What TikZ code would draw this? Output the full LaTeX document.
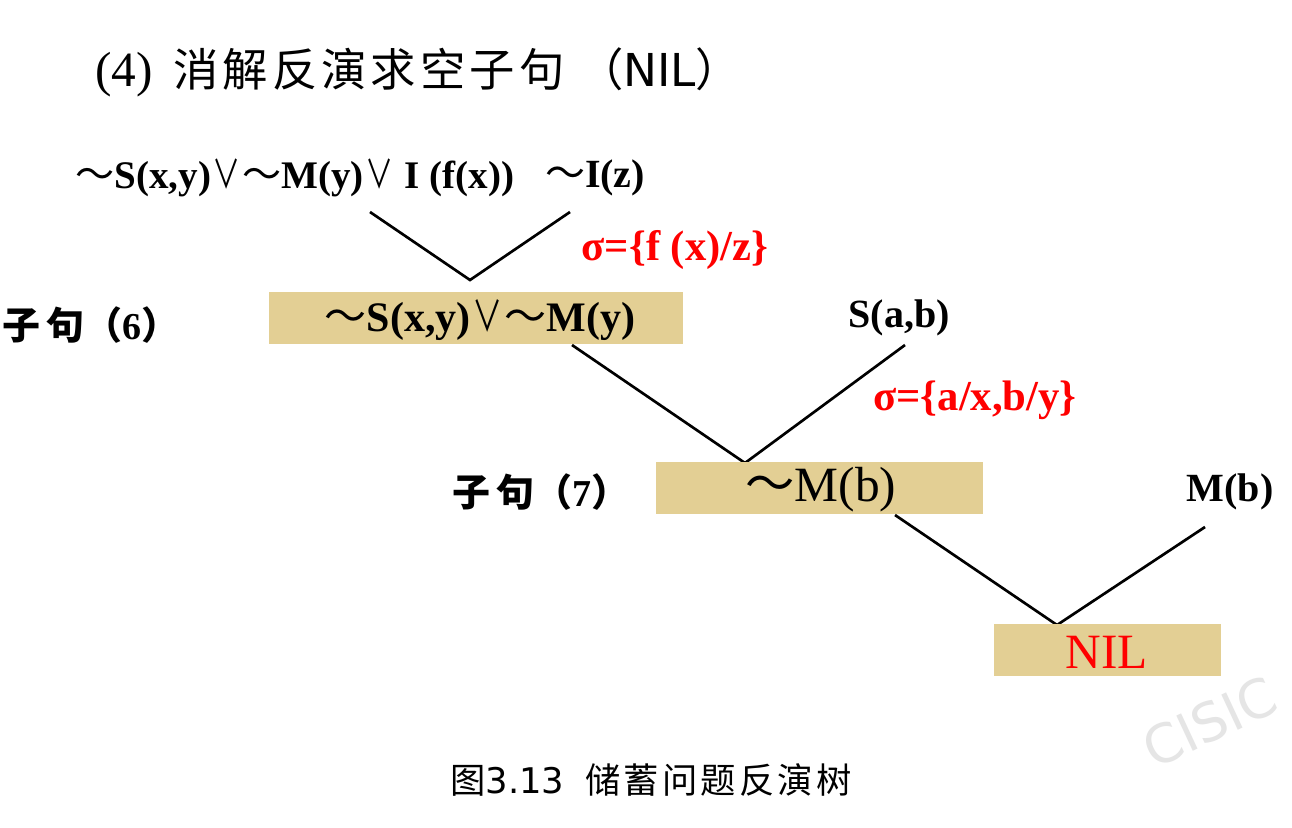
\documentclass[tikz,border=0pt]{standalone}
\usepackage{fontspec}
\setmainfont{Liberation Serif}
\newfontfamily\cjk{Noto Sans CJK SC}
\newfontfamily\cjksp[LetterSpace=9]{Noto Sans CJK SC}
\newfontfamily\cjkwide[LetterSpace=16]{Noto Sans CJK SC}
\newfontfamily\dv{DejaVu Sans}
\newcommand{\mytl}{{\cjk\mdseries ～}}
\newcommand{\myor}{\makebox[0.8em]{\scalebox{0.72}[1]{\cjk\mdseries ∨}}}
\definecolor{boxtan}{HTML}{E3CF94}
\begin{document}
\begin{tikzpicture}[x=0.75pt,y=-0.75pt,
  formula/.style={inner sep=0pt,font=\bfseries\fontsize{30}{36}\selectfont},
  sigma/.style={inner sep=0pt,text=red,font=\bfseries\fontsize{32}{36}\selectfont},
  clabel/.style={inner sep=0pt,anchor=west,font=\bfseries\fontsize{28.5}{32}\selectfont},
  box/.style={fill=boxtan,inner sep=0pt,minimum height=39pt},
  edge/.style={line width=2pt,black},
]
\useasboundingbox (0,0) rectangle (1292,828);
\fill[white] (0,0) rectangle (1292,828);

% title
\node[anchor=west,inner sep=0pt,font=\fontsize{34}{40}\selectfont] (title) at (95,72)
  {{\fontsize{37}{40}\selectfont(4)}\hspace{0.45em}{\cjksp 消解反演求空子句}\hspace{0.3em}{\cjk （}{\dv NIL}{\cjk ）}};

% top clauses
\node[formula,font=\bfseries\fontsize{29.3}{36}\selectfont] (c1) at (295,178) {\mytl S(x,y)\myor\mytl M(y)\myor{} I (f(x))};
\node[formula] (c2) at (595,178) {\mytl I(z)};
\coordinate (p1) at (370,212);
\coordinate (p2) at (570,212);
\coordinate (j1) at (470,280);
\draw[edge] (p1) -- (j1) -- (p2);
\node[sigma] (s1) at (675,250) {σ=\{f (x)/z\}};

% clause 6
\node[box,minimum width=310.5pt] (b1) at (476,318) {};
\node[formula,font=\bfseries\fontsize{31.5}{36}\selectfont] (b1t) at (480,320) {\mytl S(x,y)\myor\mytl M(y)};
\node[clabel] (l6) at (2,325) {{\cjkwide 子句}{\cjk （}6{\cjk ）}};
\node[formula] (sab) at (899,318) {S(a,b)};
\coordinate (p3) at (572,345);
\coordinate (p4) at (905,345);
\coordinate (j2) at (745,463);
\draw[edge] (p3) -- (j2) -- (p4);
\node[sigma] (s2) at (975,400) {σ=\{a/x,b/y\}};

% clause 7
\node[box,minimum width=245.25pt] (b2) at (819.5,488) {};
\node[inner sep=0pt,font=\fontsize{37}{42}\selectfont] (b2t) at (821,490) {\mytl M(b)};
\node[clabel] (l7) at (452,492) {{\cjkwide 子句}{\cjk （}7{\cjk ）}};
\node[formula] (mb) at (1230,492) {M(b)};
\coordinate (p5) at (895,515);
\coordinate (p6) at (1205,527);
\coordinate (j3) at (1057,625);
\draw[edge] (p5) -- (j3) -- (p6);

% NIL
\node[box,minimum width=170.25pt] (b3) at (1107.5,650) {};
\node[inner sep=0pt,text=red,font=\fontsize{37}{42}\selectfont] (nil) at (1107,652) {NIL};

% caption
\node[inner sep=0pt,font=\fontsize{26.5}{30}\selectfont] (cap) at (651,780)
  {{\cjk 图}{\dv 3.13}\hspace{0.6em}{\cjksp 储蓄问题反演树}};

% watermark
\node[inner sep=0pt,rotate=25,text=gray!20,font=\dv\fontsize{40}{40}\selectfont] (wm) at (1210,722) {CISIC};
\end{tikzpicture}
\end{document}
